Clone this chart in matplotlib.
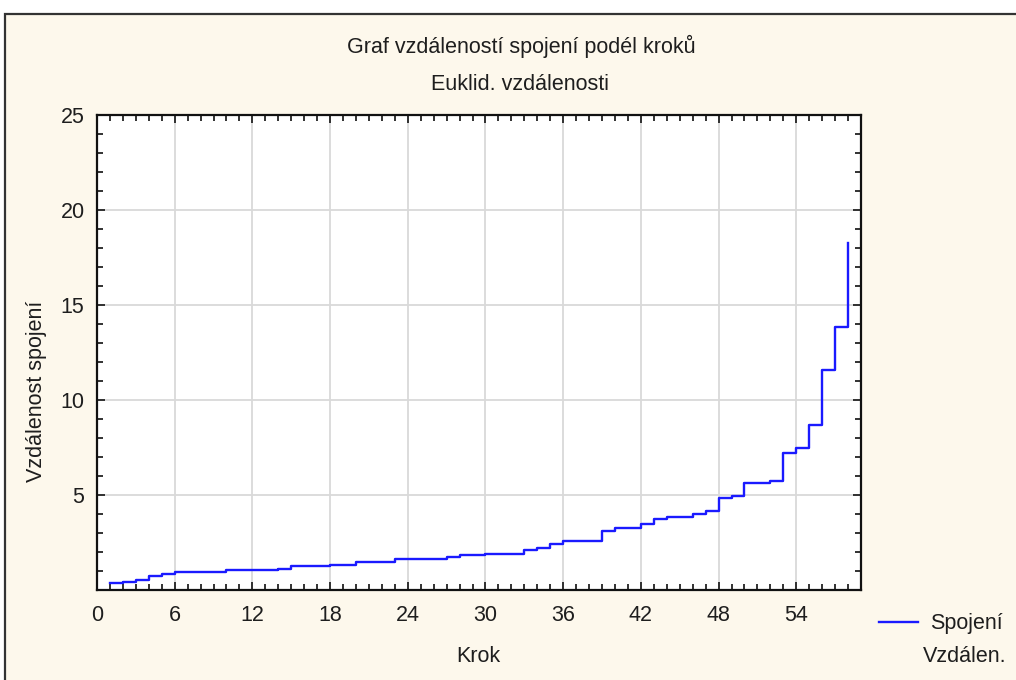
import numpy as np
import matplotlib.pyplot as plt
from matplotlib.patches import Rectangle
from matplotlib.ticker import MultipleLocator

plt.rcParams['font.family'] = ['Liberation Sans', 'DejaVu Sans']

# step number of each join and its linkage distance
steps = np.arange(1, 59)
dist = [0.35, 0.44, 0.53, 0.75, 0.84, 0.93, 0.93, 0.93, 0.93, 1.03,
        1.03, 1.03, 1.03, 1.12, 1.25, 1.25, 1.25, 1.33, 1.33, 1.49,
        1.49, 1.49, 1.61, 1.61, 1.61, 1.61, 1.72, 1.84, 1.84, 1.91,
        1.91, 1.91, 2.10, 2.21, 2.40, 2.58, 2.58, 2.58, 3.09, 3.25,
        3.25, 3.47, 3.75, 3.86, 3.86, 4.02, 4.14, 4.86, 4.93, 5.63,
        5.63, 5.72, 7.19, 7.49, 8.67, 11.60, 13.86, 18.28]

title = "Graf vzdáleností spojení podél kroků"
subtitle = "Euklid. vzdálenosti"
x_label = "Krok"
y_label = "Vzdálenost spojení"
legend_label = "Spojení"
legend_sub = "Vzdálen."

W, H = 1016, 680
bg = '#fdf8ec'
txt = '#1e1e1e'
fs = 15.5

fig = plt.figure(figsize=(W / 100, H / 100), dpi=100, facecolor='white')

# beige panel with dark border on top/left
fig.patches.append(Rectangle((5 / W, -0.05), 1.1, 1 - 14 / H + 0.05,
                             transform=fig.transFigure, facecolor=bg,
                             edgecolor='#333333', linewidth=1.6, zorder=-1))

ax = fig.add_axes([97 / W, 1 - 590 / H, (861 - 97) / W, (590 - 115) / H])
ax.set_facecolor('white')

ax.plot(steps, dist, drawstyle='steps-post', color='#1a1aff', lw=1.7,
        label=legend_label, zorder=3)

ax.set_xlim(0, 59)
ax.set_ylim(0, 25)
ax.xaxis.set_major_locator(MultipleLocator(6))
ax.xaxis.set_minor_locator(MultipleLocator(1))
ax.set_yticks([5, 10, 15, 20, 25])
ax.yaxis.set_minor_locator(MultipleLocator(1))

ax.grid(True, which='major', color='#d9d9d9', lw=1.3, zorder=0)
ax.set_axisbelow(True)

ax.tick_params(which='both', direction='in', top=True, right=True,
               colors='#222222', width=1.3)
ax.tick_params(which='major', length=6, labelsize=fs, labelcolor=txt)
ax.tick_params(which='minor', length=4)
ax.tick_params(axis='x', which='major', pad=11)
ax.tick_params(axis='y', which='major', pad=9)

for s in ax.spines.values():
    s.set_linewidth(1.6)
    s.set_color('#111111')

fig.text(521 / W, 1 - 46 / H, title, ha='center', va='center',
         fontsize=fs, color=txt)
fig.text(520 / W, 1 - 85 / H, subtitle, ha='center', va='center',
         fontsize=fs, color=txt)
fig.text(478 / W, 1 - 657 / H, x_label, ha='center', va='center',
         fontsize=fs, color=txt)
fig.text(37 / W, 1 - 391 / H, y_label, ha='center', va='center',
         rotation=90, fontsize=fs, color=txt)

leg = ax.legend(loc='center left', bbox_to_anchor=(879 / W, 1 - 624 / H),
                bbox_transform=fig.transFigure, frameon=False, fontsize=fs,
                handlelength=1.8, handletextpad=0.55, borderpad=0,
                borderaxespad=0)
for t in leg.get_texts():
    t.set_color(txt)
fig.text(965 / W, 1 - 657 / H, legend_sub, ha='center', va='center',
         fontsize=fs, color=txt)

fig.savefig('out.png', dpi=100, facecolor=fig.get_facecolor())
